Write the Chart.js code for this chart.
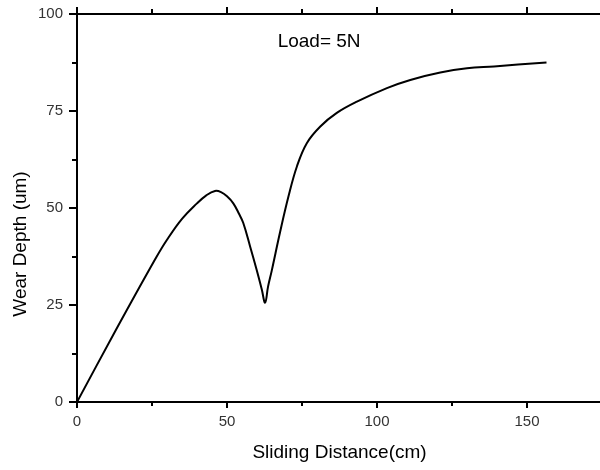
<!DOCTYPE html>
<html>
<head>
<meta charset="utf-8">
<title>Wear Depth vs Sliding Distance</title>
<script src="https://cdn.jsdelivr.net/npm/chart.js@4.4.1/dist/chart.umd.min.js"></script>
<style>
    html, body { margin: 0; padding: 0; background: #fff; overflow: hidden; }
    #wrap { width: 602px; height: 470px; }
</style>
</head>
<body>
<div id="wrap"><canvas id="wearChart"></canvas></div>
<script>
// Measured wear curve (distance in cm, depth in um)
const slidingDistance = [0, 13, 26, 30, 35, 40, 43, 46, 48, 50, 52.1, 54, 55.4, 57.7, 59.9, 61.6, 62.7,
    63.7, 64.9, 67.7, 70.5, 73.3, 76.6, 81.1, 86.6, 93.3, 103.3, 111.1, 121.1, 130, 139, 147, 156.5];
const wearDepth = [0, 18.6, 36.7, 41.8, 47.2, 51.2, 53.2, 54.4, 54.1, 53.0, 51.2, 48.5, 46.2, 40.1, 34.0, 29.0, 25.6,
    29.8, 33.8, 43.8, 53.0, 60.7, 66.7, 71.0, 74.5, 77.4, 80.9, 83.0, 84.9, 86.0, 86.5, 87.0, 87.5];

const xMajorStep = 50;
const yMajorStep = 25;
const loadLabel = 'Load= 5N';

const fontFamily = '"Liberation Sans", Arial, Helvetica, sans-serif';

// Tick marks drawn outward, long on majors and short on minors
const tickMarks = {
    id: 'tickMarks',
    afterDraw(chart) {
        const ctx = chart.ctx;
        const area = chart.chartArea;
        const xs = chart.scales.x;
        const ys = chart.scales.y;
        ctx.save();
        ctx.strokeStyle = '#000';
        ctx.lineWidth = 2;
        ctx.beginPath();
        xs.ticks.forEach(function(t) {
            if (t.value > xs.max || t.value % 25 !== 0) return;
            const px = Math.round(xs.getPixelForValue(t.value));
            const len = t.value % xMajorStep === 0 ? 6 : 4;
            ctx.moveTo(px, area.bottom);
            ctx.lineTo(px, area.bottom + len);
            ctx.moveTo(px, area.top);
            ctx.lineTo(px, area.top - len - 1);
        });
        ys.ticks.forEach(function(t) {
            const py = Math.round(ys.getPixelForValue(t.value));
            const len = t.value % yMajorStep === 0 ? 8 : 5;
            ctx.moveTo(area.left, py);
            ctx.lineTo(area.left - len, py);
        });
        ctx.stroke();

        // Y axis title, rotated
        ctx.fillStyle = '#000';
        ctx.font = '19px ' + fontFamily;
        ctx.textAlign = 'center';
        ctx.textBaseline = 'middle';
        ctx.save();
        ctx.translate(21, 244);
        ctx.rotate(-Math.PI / 2);
        ctx.fillText('Wear Depth (um)', 0, 0);
        ctx.restore();

        // Load annotation inside the plot
        ctx.textBaseline = 'alphabetic';
        ctx.fillText(loadLabel, xs.getPixelForValue(80.7), ys.getPixelForValue(91.5));
        ctx.restore();
    }
};

// keep the plot box where it is, no extra room for edge labels
function noEdgePadding(s) {
    s.paddingLeft = 0;
    s.paddingRight = 0;
    s.paddingTop = 0;
    s.paddingBottom = 0;
}

const points = slidingDistance.map(function(d, i) { return { x: d, y: wearDepth[i] }; });

const ctx = document.getElementById('wearChart').getContext('2d');
new Chart(ctx, {
    type: 'line',
    data: {
        datasets: [{
            data: points,
            borderColor: '#000',
            borderWidth: 2,
            pointRadius: 0,
            fill: false,
            tension: 0.4
        }]
    },
    options: {
        responsive: true,
        maintainAspectRatio: false,
        animation: false,
        layout: { padding: 0 },
        plugins: { legend: { display: false }, tooltip: { enabled: false } },
        scales: {
            x: {
                type: 'linear',
                position: 'bottom',
                min: 0,
                max: 175,
                afterFit: function(s) { s.height = 68; noEdgePadding(s); },
                grid: { display: false, drawTicks: false },
                border: { display: true, color: '#000', width: 2 },
                ticks: {
                    stepSize: 25,
                    padding: 11,
                    color: '#333',
                    font: { family: fontFamily, size: 15 },
                    maxRotation: 0,
                    autoSkip: false,
                    callback: function(v) { return (v % xMajorStep === 0 && v < 175) ? String(v) : ''; }
                },
                title: {
                    display: true,
                    text: 'Sliding Distance(cm)',
                    color: '#000',
                    font: { family: fontFamily, size: 19 },
                    padding: { top: 4, bottom: 6 }
                }
            },
            xTop: {
                type: 'linear',
                position: 'top',
                min: 0,
                max: 175,
                afterFit: function(s) { s.height = 14; noEdgePadding(s); },
                grid: { display: false, drawTicks: false },
                border: { display: true, color: '#000', width: 2 },
                ticks: { display: false }
            },
            y: {
                min: 0,
                max: 100,
                afterFit: function(s) { s.width = 77; noEdgePadding(s); },
                grid: { display: false, drawTicks: false },
                border: { display: true, color: '#000', width: 2 },
                ticks: {
                    stepSize: 12.5,
                    padding: 14,
                    color: '#333',
                    font: { family: fontFamily, size: 15 },
                    autoSkip: false,
                    callback: function(v) { return v % yMajorStep === 0 ? String(v) : ''; }
                }
            }
        }
    },
    plugins: [tickMarks]
});
</script>
</body>
</html>
